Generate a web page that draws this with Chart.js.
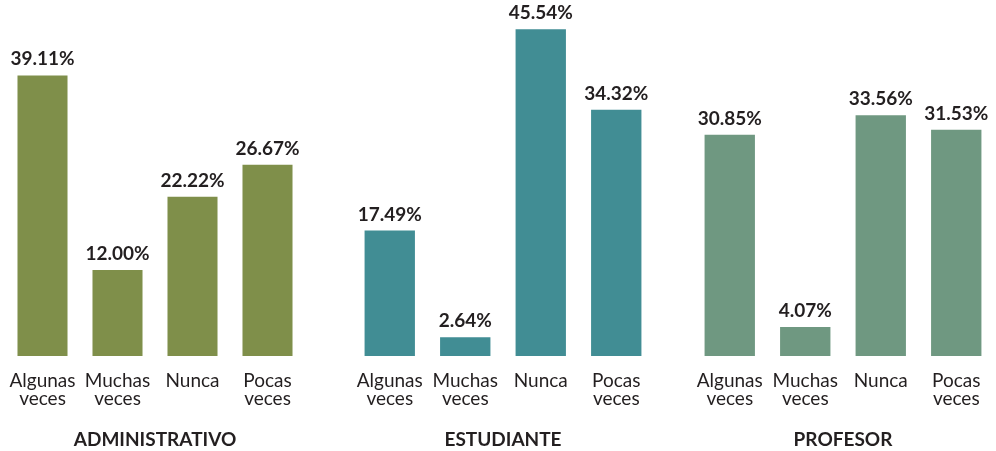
<!DOCTYPE html>
<html>
<head>
<meta charset="utf-8">
<script src="https://cdn.jsdelivr.net/npm/chart.js@4"></script>
<style>
    html, body { margin: 0; padding: 0; background: #fff; }
    body { width: 996px; height: 451px; position: relative; overflow: hidden; }
    .panel { position: absolute; top: 0; height: 451px; }
</style>
</head>
<body>
<div class="panel" style="left:5px;width:300px"><canvas id="chartAdmin"></canvas></div>
<div class="panel" style="left:352px;width:302px"><canvas id="chartEstudiante"></canvas></div>
<div class="panel" style="left:692px;width:302px"><canvas id="chartProfesor"></canvas></div>
<script>
// Data
const categories = [["Algunas", "veces"], ["Muchas", "veces"], ["Nunca"], ["Pocas", "veces"]];
const groups = ["ADMINISTRATIVO", "ESTUDIANTE", "PROFESOR"];
const adminValues = [39.11, 12.00, 22.22, 26.67];
const estudianteValues = [17.49, 2.64, 45.54, 34.32];
const profesorValues = [30.85, 4.07, 33.56, 31.53];
const yMax = 46;

const colors = {
    olive: "#7f8f4a",
    teal: "#418d94",
    sage: "#6f9881",
    text: "#231f20",
};

// draw the value above every bar
const valueLabels = {
    id: "valueLabels",
    afterDatasetsDraw(chart) {
        const ctx = chart.ctx;
        const values = chart.data.datasets[0].data;
        ctx.save();
        ctx.font = "bold 19px Lato";
        ctx.fillStyle = colors.text;
        ctx.textAlign = "center";
        ctx.textBaseline = "alphabetic";
        chart.getDatasetMeta(0).data.forEach((bar, i) => {
            ctx.fillText(values[i].toFixed(2) + "%", bar.x, bar.y - 10);
        });
        ctx.restore();
    },
};

function makeChart(id, title, values, color) {
    const canvas = document.getElementById(id);
    if (!canvas) {
        console.error(id + " element not found");
        return;
    }
    new Chart(canvas.getContext("2d"), {
        type: "bar",
        data: {
            labels: categories,
            datasets: [
                {
                    data: values,
                    backgroundColor: color,
                    borderWidth: 0,
                    barPercentage: 1,
                    categoryPercentage: 0.667,
                },
            ],
        },
        options: {
            responsive: true,
            maintainAspectRatio: false,
            animation: false,
            layout: { padding: { top: 26, bottom: 0, left: 0, right: 0 } },
            plugins: {
                legend: { display: false },
                tooltip: { enabled: false },
            },
            scales: {
                y: {
                    display: false,
                    min: 0,
                    max: yMax,
                },
                x: {
                    // invisible tick marks give the gap under the bars
                    grid: {
                        display: true,
                        color: "transparent",
                        drawTicks: true,
                        tickLength: 16,
                        tickColor: "transparent",
                    },
                    border: { display: false },
                    ticks: {
                        color: colors.text,
                        padding: 0,
                        maxRotation: 0,
                        autoSkip: false,
                        font: { family: "Lato", size: 19, lineHeight: 0.95 },
                    },
                    title: {
                        display: true,
                        text: title,
                        color: colors.text,
                        padding: { top: 20, bottom: 0 },
                        font: { family: "Lato", size: 19, weight: "bold" },
                    },
                },
            },
        },
        plugins: [valueLabels],
    });
}

document.addEventListener("DOMContentLoaded", function () {
    makeChart("chartAdmin", groups[0], adminValues, colors.olive);
    makeChart("chartEstudiante", groups[1], estudianteValues, colors.teal);
    makeChart("chartProfesor", groups[2], profesorValues, colors.sage);
});
</script>
</body>
</html>
